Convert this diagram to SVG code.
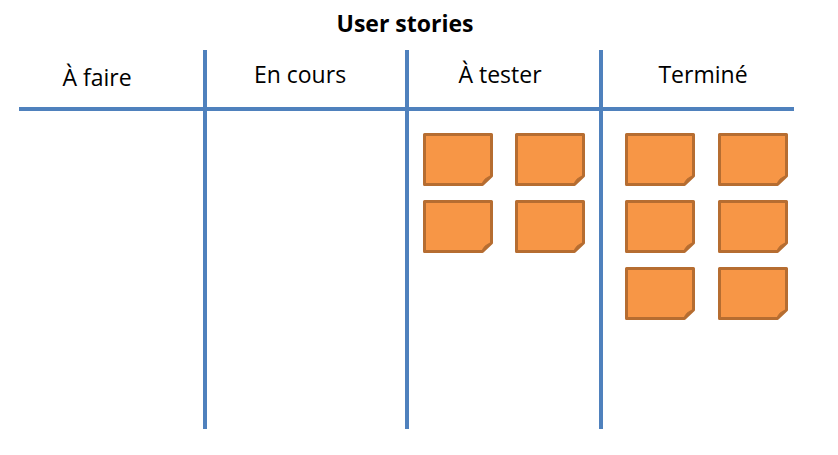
<svg xmlns="http://www.w3.org/2000/svg" width="838" height="455" viewBox="0 0 838 455">
<style>
.t{font-family:"Open Sans","Liberation Sans",sans-serif;font-size:23px;fill:#000;text-anchor:middle}
.title{font-family:"Open Sans","Liberation Sans",sans-serif;font-size:23px;font-weight:bold;fill:#000;text-anchor:middle}
.ln{stroke:#4F81BD;stroke-width:4;fill:none}
.note{fill:#F79646;stroke:#B66D31;stroke-width:3;stroke-linejoin:round}
.fold{fill:#B66D31;stroke:#B66D31;stroke-width:1;stroke-linejoin:round}
</style>
<defs>
<g id="note">
<path class="note" d="M1.5,1.5 H68.5 V43 L59.5,51.5 H1.5 Z"/>
<path class="fold" d="M68.5,43 L59.5,51.5 Q60,45 68.5,43 Z"/>
</g>
</defs>
<rect width="838" height="455" fill="#fff"/>
<text class="title" x="405" y="32">User stories</text>
<g id="grid">
<line class="ln" x1="19" y1="109" x2="794" y2="109"/>
<line class="ln" x1="205" y1="50" x2="205" y2="429"/>
<line class="ln" x1="407" y1="50" x2="407" y2="429"/>
<line class="ln" x1="601" y1="50" x2="601" y2="429"/>
</g>
<g id="headers">
<text class="t" x="97" y="86">À faire</text>
<text class="t" x="300" y="83">En cours</text>
<text class="t" x="500" y="83">À tester</text>
<text class="t" x="703" y="83">Terminé</text>
</g>
<g id="notes-tester">
<use href="#note" x="423" y="133"/>
<use href="#note" x="515" y="133"/>
<use href="#note" x="423" y="200"/>
<use href="#note" x="515" y="200"/>
</g>
<g id="notes-termine">
<use href="#note" x="625" y="133"/>
<use href="#note" x="718" y="133"/>
<use href="#note" x="625" y="200"/>
<use href="#note" x="718" y="200"/>
<use href="#note" x="625" y="267"/>
<use href="#note" x="718" y="267"/>
</g>
</svg>
